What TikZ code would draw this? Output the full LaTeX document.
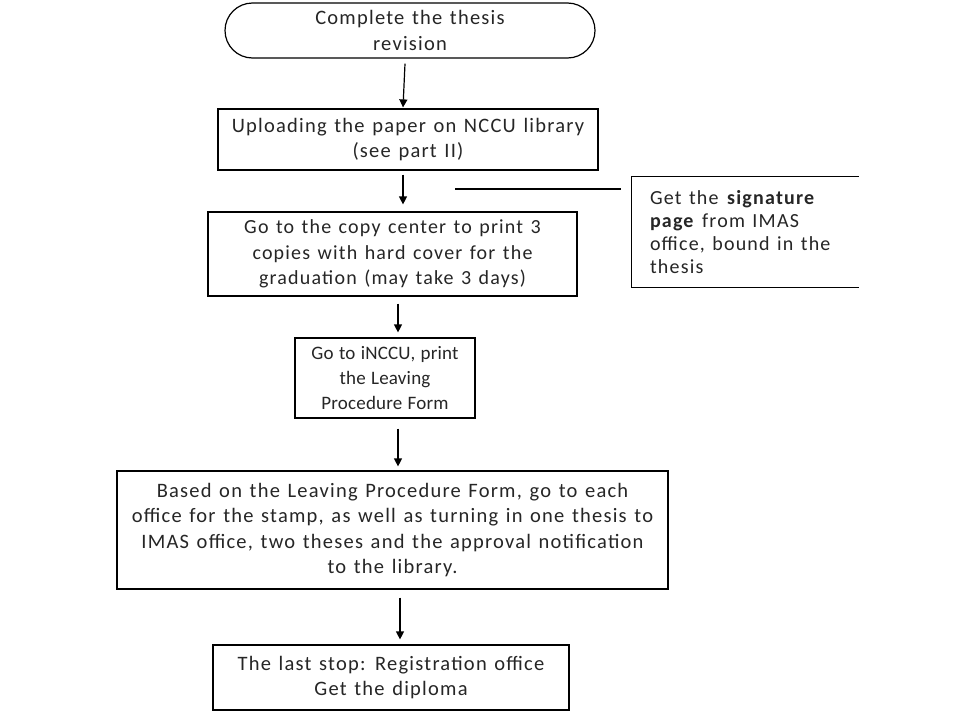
\documentclass[tikz,border=0pt]{standalone}
\usepackage{fontspec}
\setmainfont{Carlito}[LetterSpace=6,WordSpace=1.3]
\newfontfamily\narrowfont{Carlito}[LetterSpace=1,WordSpace=1.2]
\usetikzlibrary{arrows.meta,shapes.misc}
\begin{document}
\begin{tikzpicture}[x=1pt,y=-1pt,
  box/.style={draw=black,line width=1.2pt,rectangle,inner sep=0pt,align=center,
    font=\fontsize{20.5}{25.5}\selectfont,text=black!85},
  flow/.style={line width=1.2pt,-{Triangle[length=8pt,width=8pt]}}]
\useasboundingbox (0,0) rectangle (960,720);
\fill[white] (0,0) rectangle (960,720);
\node[box,rounded rectangle,minimum width=370pt,minimum height=55pt] (n1) at (410,30.5) {Complete the thesis\\revision};
\node[box,minimum width=380pt,minimum height=61pt] (n2) at (408,139.5) {Uploading the paper on NCCU library\\(see part II)};
\node[box,minimum width=369pt,minimum height=84pt,font=\fontsize{20}{25.5}\selectfont] (n3) at (392.5,254) {Go to the copy center to print 3\\copies with hard cover for the\\graduation (may take 3 days)};
\node[box,minimum width=180pt,minimum height=80pt,font=\narrowfont\fontsize{19}{25}\selectfont] (n4) at (385,378) {Go to iNCCU, print\\the Leaving\\Procedure Form};
\node[box,minimum width=551pt,minimum height=118pt] (n5) at (392.5,530) {Based on the Leaving Procedure Form, go to each\\office for the stamp, as well as turning in one thesis to\\IMAS office, two theses and the approval notification\\to the library.};
\node[box,minimum width=356pt,minimum height=65pt] (n6) at (391,677.5) {The last stop: Registration office\\Get the diploma};
\node[box,draw=none,minimum width=226pt,minimum height=110pt,align=flush left,text width=206pt,inner xsep=10pt,font=\fontsize{20}{23}\selectfont] (n7) at (753,232) {Get the \textbf{signature}\\\textbf{page} from IMAS\\office, bound in the\\thesis};
\draw[line width=1.2pt] ([xshift=-8pt]n7.north east) -- ([xshift=-8pt]n7.north west) -- ([xshift=-8pt]n7.south west) -- ([xshift=-8pt]n7.south east);
\coordinate (la) at (455,189);
\coordinate (lb) at (621,189);
\draw[line width=1.2pt] (la) -- (lb);
\draw[flow] ([xshift=-5pt,yshift=-5pt]n1.south) -- ([xshift=-5pt,yshift=1pt]n2.north);
\draw[flow] ([xshift=-5pt,yshift=-4pt]n2.south) -- ([xshift=10.5pt,yshift=7pt]n3.north);
\draw[flow] ([xshift=5.5pt,yshift=-7pt]n3.south) -- ([xshift=13pt,yshift=5pt]n4.north);
\draw[flow] ([xshift=13pt,yshift=-10pt]n4.south) -- ([xshift=5.5pt,yshift=4pt]n5.north);
\draw[flow] ([xshift=7.5pt,yshift=-8pt]n5.south) -- ([xshift=9pt,yshift=5pt]n6.north);
\end{tikzpicture}
\end{document}
